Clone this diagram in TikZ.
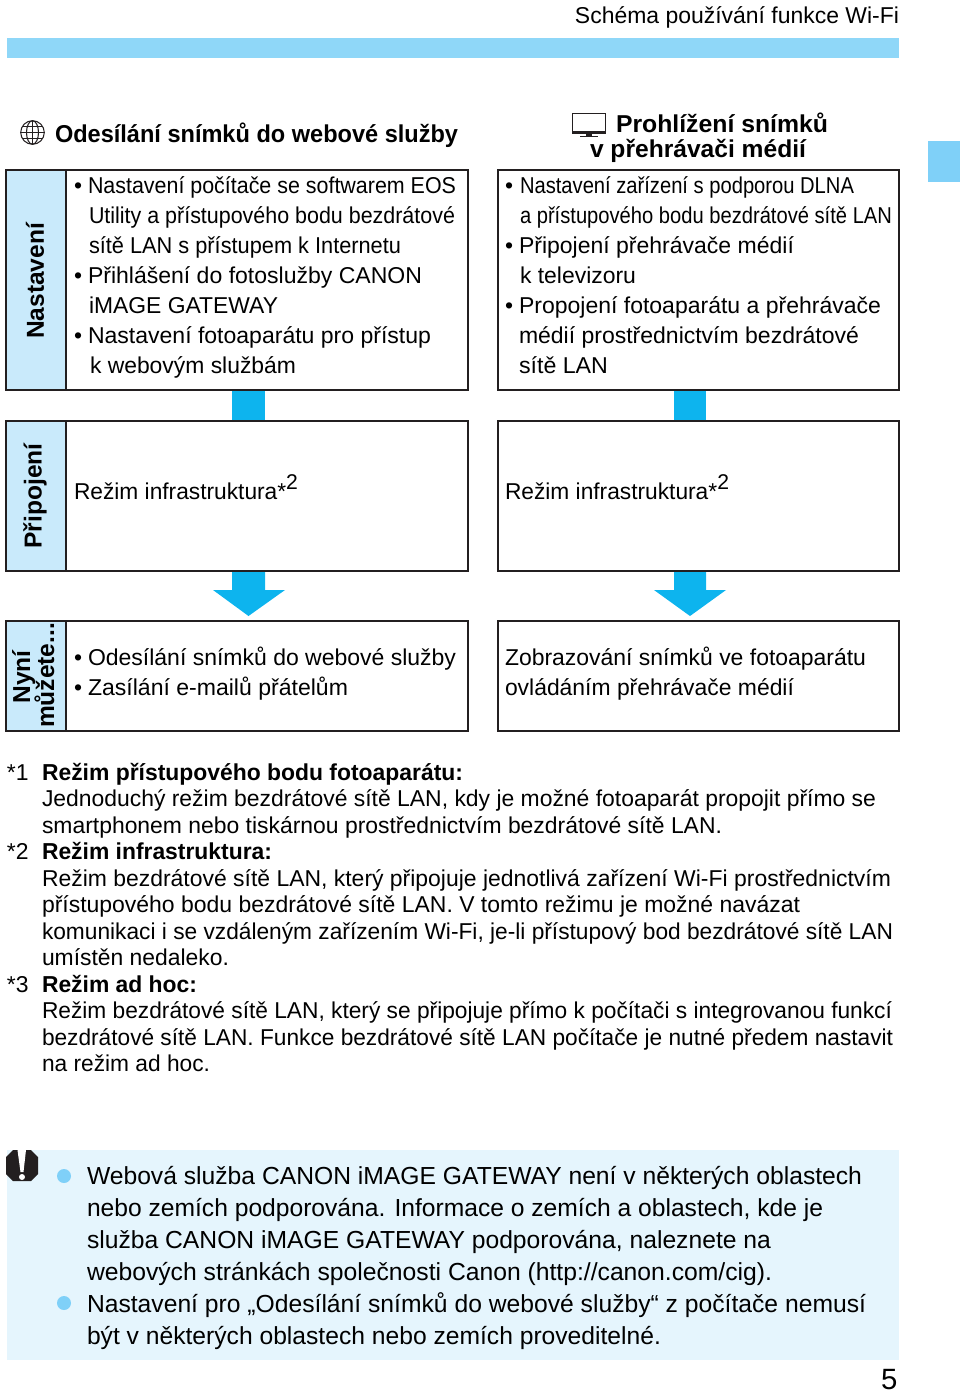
\documentclass[tikz,border=0pt]{standalone}
\usepackage{fontspec}
\usepackage{graphicx}
\setmainfont{Liberation Sans}
\usetikzlibrary{calc}
\definecolor{barblue}{HTML}{8FD7F8}
\definecolor{cellblue}{HTML}{C9EAFB}
\definecolor{arrowblue}{HTML}{0DB4EE}
\definecolor{panelblue}{HTML}{E5F5FD}
\definecolor{dotblue}{HTML}{7FD0F8}
\definecolor{inkline}{HTML}{231F20}
\newlength{\pxu}\setlength{\pxu}{0.75pt}
\newcommand{\fw}[2]{\resizebox{#1\pxu}{\height}{#2}}
\tikzset{
  txt/.style={anchor=base west,inner sep=0pt,outer sep=0pt,text=black,font=\fontsize{17.2}{18}\selectfont},
  note/.style={txt,font=\fontsize{17.2}{18}\selectfont},
  notebold/.style={txt,font=\fontsize{17.3}{18}\selectfont\bfseries},
  big/.style={txt,font=\fontsize{18.5}{19}\selectfont},
  head/.style={txt,font=\fontsize{18.3}{18}\selectfont\bfseries},
  vert/.style={inner sep=0pt,outer sep=0pt,rotate=90,font=\fontsize{18.4}{18}\selectfont\bfseries},
  frame/.style={draw=inkline,line width=1.4pt},
  cell/.style={draw=inkline,line width=1.4pt,fill=cellblue},
  flow/.style={fill=arrowblue,draw=none}
}
\begin{document}
\begin{tikzpicture}[x=0.75pt,y=-0.75pt]
\useasboundingbox (0,0) rectangle (960,1392);
% header
\node[txt,anchor=base east] (hdr) at (899,23) {\fw{324}{Schéma používání funkce Wi-Fi}};
\fill[barblue] (7,38) rectangle (899,58);
\fill[dotblue] (928,141) rectangle (960,182);
% connectors
\coordinate (la) at (232,390); \coordinate (lb) at (265,421);
\coordinate (ra) at (674,390); \coordinate (rb) at (706,421);
\fill[flow] (la) rectangle (lb);
\fill[flow] (ra) rectangle (rb);
% boxes
\draw[frame] (6,170) rectangle (468,390);
\draw[cell] (6,170) rectangle (66,390);
\draw[frame] (498,170) rectangle (899,390);
\draw[frame] (6,421) rectangle (468,571);
\draw[cell] (6,421) rectangle (66,571);
\draw[frame] (498,421) rectangle (899,571);
\draw[frame] (6,621) rectangle (468,731);
\draw[cell] (6,621) rectangle (66,731);
\draw[frame] (498,621) rectangle (899,731);
% arrows
\fill[flow] (232,572) -- (265,572) -- (265,590) -- (285,590) -- (248.5,616) -- (213,590) -- (232,590) -- cycle;
\fill[flow] (674,572) -- (706,572) -- (706,590) -- (726,590) -- (690,616) -- (654,590) -- (674,590) -- cycle;
% globe icon
\begin{scope}[draw=inkline,line width=0.8pt]
\draw (32.5,132.5) circle[radius=11.8];
\draw (32.5,132.5) ellipse[x radius=6,y radius=11.8];
\draw (32.5,120.7) -- (32.5,144.3);
\draw (20.7,132.5) -- (44.3,132.5);
\draw (22.5,126.5) -- (42.5,126.5);
\draw (22.5,138.5) -- (42.5,138.5);
\end{scope}
% tv icon
\draw[inkline,line width=1pt] (572.5,113.5) rectangle (605.5,132);
\fill[inkline] (572,131.5) rectangle (606,134);
\fill[inkline] (586,134) rectangle (592,135.5);
\fill[inkline] (580,135.5) rectangle (598,137);
% headings
\node[head] (h1) at (55,142) {\fw{403}{Odesílání snímků do webové služby}};
\node[head] (h2) at (616,132) {\fw{212}{Prohlížení snímků}};
\node[head] (h3) at (590,157) {\fw{216}{v přehrávači médií}};
% side labels
\node[vert] (v1) at (35,281) {Nastavení};
\node[vert] (v2) at (35,496) {Připojení};
\node[vert,anchor=base] (v3a) at (30,677) {Nyní};
\node[vert,anchor=base] (v3b) at (54,675.5) {můžete...};
% left column
\node[txt] (b1) at (74,193) {•};
\node[txt] (l1) at (88,193) {\fw{368}{Nastavení počítače se softwarem EOS}};
\node[txt] (l2) at (89,223) {\fw{366}{Utility a přístupového bodu bezdrátové}};
\node[txt] (l3) at (89,253) {\fw{312}{sítě LAN s přístupem k Internetu}};
\node[txt] (b2) at (74,283) {•};
\node[txt] (l4) at (88,283) {\fw{334}{Přihlášení do fotoslužby CANON}};
\node[txt] (l5) at (89,313) {\fw{189}{iMAGE GATEWAY}};
\node[txt] (b3) at (74,343) {•};
\node[txt] (l6) at (88,343) {\fw{343}{Nastavení fotoaparátu pro přístup}};
\node[txt] (l7) at (90,373) {\fw{206}{k webovým službám}};
% right column
\node[txt] (rb1) at (505,193) {•};
\node[txt] (r1) at (520,193) {\fw{334}{Nastavení zařízení s podporou DLNA}};
\node[txt] (r2) at (520,223) {\fw{372}{a přístupového bodu bezdrátové sítě LAN}};
\node[txt] (rb2) at (505,253) {•};
\node[txt] (r3) at (519,253) {\fw{275}{Připojení přehrávače médií}};
\node[txt] (r4) at (520,283) {\fw{116}{k televizoru}};
\node[txt] (rb3) at (505,313) {•};
\node[txt] (r5) at (519,313) {\fw{362}{Propojení fotoaparátu a přehrávače}};
\node[txt] (r6) at (519,343) {\fw{340}{médií prostřednictvím bezdrátové}};
\node[txt] (r7) at (519,373) {\fw{89}{sítě LAN}};
% row 2
\node[txt] (m1) at (74,499) {\fw{224}{Režim infrastruktura*\raisebox{0.42em}{\fontsize{16}{16}\selectfont 2}}};
\node[txt] (m2) at (505,499) {\fw{224}{Režim infrastruktura*\raisebox{0.42em}{\fontsize{16}{16}\selectfont 2}}};
% row 3
\node[txt] (b4) at (74,665) {•};
\node[txt] (n1) at (88,665) {\fw{368}{Odesílání snímků do webové služby}};
\node[txt] (b5) at (74,695) {•};
\node[txt] (n2) at (88,695) {\fw{260}{Zasílání e-mailů přátelům}};
\node[txt] (n3) at (505,665) {\fw{361}{Zobrazování snímků ve fotoaparátu}};
\node[txt] (n4) at (505,695) {\fw{289}{ovládáním přehrávače médií}};
% notes
\node[note] (s1) at (7,780) {*1};
\node[notebold] (t1) at (42,780) {\fw{421}{Režim přístupového bodu fotoaparátu:}};
\node[note] (t2) at (42,806) {\fw{834}{Jednoduchý režim bezdrátové sítě LAN, kdy je možné fotoaparát propojit přímo se}};
\node[note] (t3) at (42,833) {\fw{680}{smartphonem nebo tiskárnou prostřednictvím bezdrátové sítě LAN.}};
\node[note] (s2) at (7,859) {*2};
\node[notebold] (t4) at (42,859) {\fw{230}{Režim infrastruktura:}};
\node[note] (t5) at (42,886) {\fw{849}{Režim bezdrátové sítě LAN, který připojuje jednotlivá zařízení Wi-Fi prostřednictvím}};
\node[note] (t6) at (42,912) {\fw{758}{přístupového bodu bezdrátové sítě LAN. V tomto režimu je možné navázat}};
\node[note] (t7) at (42,939) {\fw{851}{komunikaci i se vzdáleným zařízením Wi-Fi, je-li přístupový bod bezdrátové sítě LAN}};
\node[note] (t8) at (42,965) {\fw{187}{umístěn nedaleko.}};
\node[note] (s3) at (7,992) {*3};
\node[notebold] (t9) at (42,992) {\fw{155}{Režim ad hoc:}};
\node[note] (t10) at (42,1018) {\fw{850}{Režim bezdrátové sítě LAN, který se připojuje přímo k počítači s integrovanou funkcí}};
\node[note] (t11) at (42,1045) {\fw{851}{bezdrátové sítě LAN. Funkce bezdrátové sítě LAN počítače je nutné předem nastavit}};
\node[note] (t12) at (42,1071) {\fw{168}{na režim ad hoc.}};
% panel
\fill[panelblue] (7,1150) rectangle (899,1360);
\fill[inkline] (13,1150) -- (31,1150) -- (38,1157) -- (38,1174) -- (31,1181) -- (13,1181) -- (6,1174) -- (6,1157) -- cycle;
\fill[white] (17.5,1150) -- (26,1150) -- (23.5,1172) -- (20.5,1172) -- cycle;
\fill[white] (22,1177) circle[radius=3];
\fill[dotblue] (64,1176) circle[radius=7];
\fill[dotblue] (64,1303) circle[radius=7];
\node[big] (p1) at (87,1184) {\fw{775}{Webová služba CANON iMAGE GATEWAY není v některých oblastech}};
\node[big] (p2) at (87,1216) {\fw{736}{nebo zemích podporována. Informace o zemích a oblastech, kde je}};
\node[big] (p3) at (87,1248) {\fw{684}{služba CANON iMAGE GATEWAY podporována, naleznete na}};
\node[big] (p4) at (87,1280) {\fw{685}{webových stránkách společnosti Canon (http://canon.com/cig).}};
\node[big] (p5) at (87,1312) {\fw{779}{Nastavení pro „Odesílání snímků do webové služby“ z počítače nemusí}};
\node[big] (p6) at (87,1344) {\fw{574}{být v některých oblastech nebo zemích proveditelné.}};
\node[txt,font=\fontsize{22}{22}\selectfont] (pg) at (881,1389) {5};
\end{tikzpicture}
\end{document}
